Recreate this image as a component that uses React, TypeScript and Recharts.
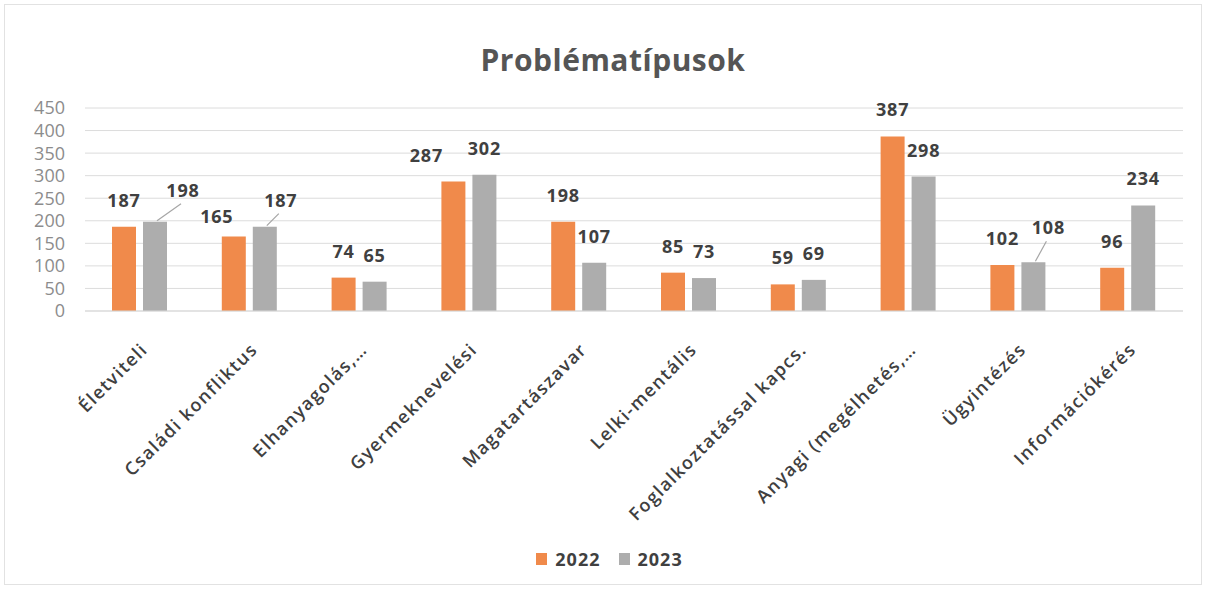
import { BarChart, Bar, XAxis, YAxis, CartesianGrid, Legend, LabelList } from "recharts"

const categories = [
  "Életviteli",
  "Családi konfliktus",
  "Elhanyagolás,…",
  "Gyermeknevelési",
  "Magatartászavar",
  "Lelki-mentális",
  "Foglalkoztatással kapcs.",
  "Anyagi (megélhetés,…",
  "Ügyintézés",
  "Információkérés",
]
const values2022 = [187, 165, 74, 287, 198, 85, 59, 387, 102, 96]
const values2023 = [198, 187, 65, 302, 107, 73, 69, 298, 108, 234]
const yTicks = [0, 50, 100, 150, 200, 250, 300, 350, 400, 450]

// labels that were dragged aside in the original (dx, dy, leader line)
const moved2022: Record<number, [number, number, boolean]> = { 1: [-17, 6, false], 3: [-27, 0, false] }
const moved2023: Record<number, [number, number, boolean]> = { 0: [28, -5, true], 1: [16, 0, true], 8: [15, -8, true] }

const FONT = "'Open Sans', 'Noto Sans', sans-serif"
const LABEL_GAP = 27

const data = categories.map((name, i) => ({ name, y2022: values2022[i], y2023: values2023[i] }))

function makeLabel(moved: Record<number, [number, number, boolean]>) {
  return (props: any) => {
    const vb = props.viewBox && props.viewBox.width != null ? props.viewBox : props
    const cx = vb.x + vb.width / 2
    const top = vb.y
    const m = moved[props.index] || [0, 0, false]
    const lx = cx + m[0]
    const ly = top - LABEL_GAP + m[1]
    return (
      <g>
        {m[2] && <line x1={cx + 2} y1={top - 1} x2={lx - 2} y2={ly + 14} stroke="#a6a6a6" strokeWidth={1.2} />}
        <text
          x={lx}
          y={ly}
          textAnchor="middle"
          dominantBaseline="central"
          fill="#404040"
          fontFamily={FONT}
          fontWeight={700}
          fontSize={18}
          letterSpacing={0.8}
        >
          {props.value}
        </text>
      </g>
    )
  }
}

function AngledTick({ x, y, payload }: any) {
  return (
    <g transform={`translate(${x - 8},${y + 26})`}>
      <text
        x={8}
        y={16}
        transform="rotate(-45)"
        textAnchor="end"
        fontFamily={FONT}
        fontWeight={600}
        fontSize={18}
        letterSpacing={1.4}
        fill="#404040"
      >
        {payload.value}
      </text>
    </g>
  )
}

function LegendContent({ payload }: any) {
  return (
    <div
      style={{
        display: "flex",
        justifyContent: "center",
        gap: 18,
        paddingLeft: 36,
        fontFamily: FONT,
        fontWeight: 700,
        fontSize: 18,
        letterSpacing: 1,
        color: "#404040",
      }}
    >
      {payload.map((p: any) => (
        <span key={p.value} style={{ display: "flex", alignItems: "center" }}>
          <span style={{ width: 11, height: 12, background: p.color, display: "inline-block", marginRight: 8 }} />
          {p.value}
        </span>
      ))}
    </div>
  )
}

export default function App() {
  return (
    <div style={{ position: "absolute", left: 0, top: 0, width: 1206, height: 589, background: "#fff" }}>
      <div style={{ position: "absolute", left: 4, top: 4, width: 1196, height: 579, border: "1px solid #e2e2e2" }} />
      <div
        style={{
          position: "absolute",
          left: 0,
          top: 39,
          width: 1226,
          textAlign: "center",
          fontFamily: FONT,
          fontWeight: 700,
          fontSize: 30,
          letterSpacing: 0.5,
          color: "#555555",
        }}
      >
        Problématípusok
      </div>
      <BarChart
        width={1206}
        height={589}
        data={data}
        margin={{ top: 108, right: 23, left: 0, bottom: 12 }}
        barGap={7}
        barSize={24}
      >
        <CartesianGrid vertical={false} stroke="#dcdcdc" />
        <XAxis
          dataKey="name"
          interval={0}
          height={236}
          tickLine={false}
          axisLine={{ stroke: "#d9d9d9" }}
          tick={<AngledTick />}
        />
        <YAxis
          width={85}
          domain={[0, 450]}
          ticks={yTicks}
          interval={0}
          tickLine={false}
          axisLine={false}
          tickMargin={14}
          tick={{ fontFamily: FONT, fontSize: 18, fill: "#8c8c8c" }}
        />
        <Legend verticalAlign="bottom" height={30} content={<LegendContent />} />
        <Bar dataKey="y2022" name="2022" fill="#F08A4B" isAnimationActive={false}>
          <LabelList dataKey="y2022" content={makeLabel(moved2022)} />
        </Bar>
        <Bar dataKey="y2023" name="2023" fill="#ADADAD" isAnimationActive={false}>
          <LabelList dataKey="y2023" content={makeLabel(moved2023)} />
        </Bar>
      </BarChart>
    </div>
  )
}
